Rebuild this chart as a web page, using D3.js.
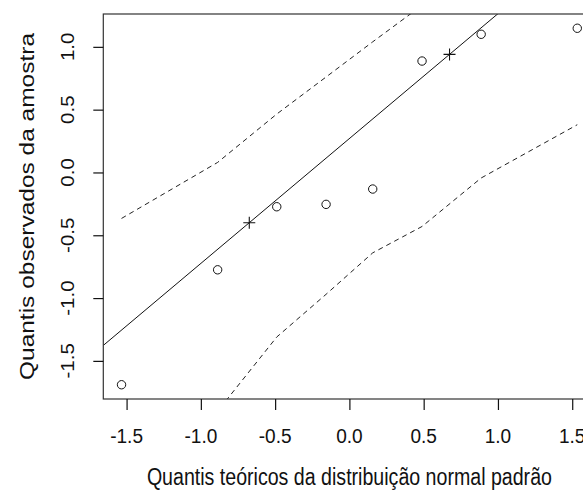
<!DOCTYPE html>
<html>
<head>
<meta charset="utf-8">
<script src="https://cdn.jsdelivr.net/npm/d3@7"></script>
<style>
  body { margin: 0; background: #fff; }
  text { font-family: "Liberation Sans", Arial, sans-serif; fill: #111; }
</style>
</head>
<body>
<svg id="chart" width="583" height="495"></svg>
<script>
// theoretical normal quantiles (x) and ordered sample (y)
const teoricos = [-1.534, -0.887, -0.489, -0.157, 0.157, 0.489, 0.887, 1.534];
const amostra = [-1.69, -0.775, -0.273, -0.254, -0.132, 0.887, 1.10, 1.148];
// envelope, read at each theoretical quantile
const envSup = [-0.366, 0.08, 0.465, 0.76, 1.04, 1.33, 1.75, 2.4];
const envInf = [-2.5, -1.9, -1.31, -0.97, -0.64, -0.43, -0.044, 0.38];
// quartile points the reference line goes through
const quartX = [-0.674, 0.674];
const quartY = [-0.40, 0.94];
const xTicks = [-1.5, -1.0, -0.5, 0.0, 0.5, 1.0, 1.5];
const yTicks = [-1.5, -1.0, -0.5, 0.0, 0.5, 1.0];

const svg = d3.select("#chart");
const pLeft = 103.3, pRight = 595.5, pTop = 14, pBottom = 399;

// R style 4% padding around the data range
function pad(ext){
    let d = (ext[1] - ext[0]) * 0.04;
    return [ext[0] - d, ext[1] + d];
}
const x = d3.scaleLinear().domain(pad(d3.extent(teoricos))).range([pLeft, pRight]);
const y = d3.scaleLinear().domain(pad(d3.extent(amostra))).range([pBottom, pTop]);

svg.append("clipPath").attr("id", "plot")
  .append("rect")
  .attr("x", pLeft).attr("y", pTop)
  .attr("width", pRight - pLeft).attr("height", pBottom - pTop);

const g = svg.append("g").attr("clip-path", "url(#plot)");

// envelope (dashed)
const line = d3.line().x(d => x(d[0])).y(d => y(d[1]));
[envSup, envInf].forEach(env => {
    g.append("path")
      .datum(teoricos.map((t, i) => [t, env[i]]))
      .attr("d", line)
      .attr("fill", "none")
      .attr("stroke", "#222")
      .attr("stroke-width", 1)
      .attr("stroke-dasharray", "5,4");
});

// line through the quartiles, extended over the plot
let slope = (quartY[1] - quartY[0]) / (quartX[1] - quartX[0]);
let x0 = x.domain()[0], x1 = x.domain()[1];
g.append("path")
  .datum([[x0, quartY[0] + slope * (x0 - quartX[0])], [x1, quartY[0] + slope * (x1 - quartX[0])]])
  .attr("d", line)
  .attr("fill", "none")
  .attr("stroke", "#111")
  .attr("stroke-width", 1);

// points
g.selectAll(".pt")
  .data(teoricos.map((t, i) => [t, amostra[i]]))
  .enter()
  .append("circle")
  .attr("class", "pt")
  .attr("cx", d => x(d[0]))
  .attr("cy", d => y(d[1]))
  .attr("r", 4.2)
  .attr("fill", "none")
  .attr("stroke", "#111")
  .attr("stroke-width", 1);

// crosses at the quartiles
g.selectAll(".cross")
  .data(quartX.map((q, i) => [q, quartY[i]]))
  .enter()
  .append("path")
  .attr("class", "cross")
  .attr("d", d => {
      let cx = x(d[0]), cy = y(d[1]), s = 6;
      return "M" + (cx - s) + "," + cy + "H" + (cx + s) + "M" + cx + "," + (cy - s) + "V" + (cy + s);
  })
  .attr("stroke", "#111")
  .attr("stroke-width", 1.1);

// box
svg.append("rect")
  .attr("x", pLeft).attr("y", pTop)
  .attr("width", pRight - pLeft).attr("height", pBottom - pTop)
  .attr("fill", "none")
  .attr("stroke", "#333")
  .attr("stroke-width", 1.2);

// axes
const xAxis = svg.append("g")
  .attr("transform", "translate(0," + pBottom + ")")
  .call(d3.axisBottom(x).tickValues(xTicks).tickSize(11).tickPadding(0).tickFormat(d3.format(".1f")));
const yAxis = svg.append("g")
  .attr("transform", "translate(" + pLeft + ",0)")
  .call(d3.axisLeft(y).tickValues(yTicks).tickSize(10).tickPadding(0).tickFormat(d3.format(".1f")));
[xAxis, yAxis].forEach(a => {
    a.select(".domain").remove();
    a.selectAll(".tick line").attr("stroke", "#111").attr("stroke-width", 1.2);
    a.selectAll(".tick text").remove();
});

// tick labels, a little narrower than tall like the reference
const fmt = v => d3.format(".1f")(v).replace("−", "-");
const tickSize = 20.5, tickSx = 0.93;
xTicks.forEach(t => {
    svg.append("text")
      .attr("transform", "translate(" + x(t) + ",443) scale(" + tickSx + ",1)")
      .attr("text-anchor", "middle")
      .attr("font-size", tickSize)
      .text(fmt(t));
});
yTicks.forEach(t => {
    svg.append("text")
      .attr("transform", "translate(74," + y(t) + ") scale(" + tickSx + ",1) rotate(-90)")
      .attr("text-anchor", "middle")
      .attr("font-size", tickSize)
      .text(fmt(t));
});

// axis titles
const labSize = 24.5, labSx = 0.8;
svg.append("text")
  .attr("transform", "translate(" + (pLeft + pRight) / 2 + ",485) scale(" + labSx + ",1)")
  .attr("text-anchor", "middle")
  .attr("font-size", labSize)
  .text("Quantis teóricos da distribuição normal padrão");
svg.append("text")
  .attr("transform", "translate(34," + (pTop + pBottom) / 2 + ") scale(" + labSx + ",1) rotate(-90)")
  .attr("text-anchor", "middle")
  .attr("font-size", labSize)
  .text("Quantis observados da amostra");
</script>
</body>
</html>
